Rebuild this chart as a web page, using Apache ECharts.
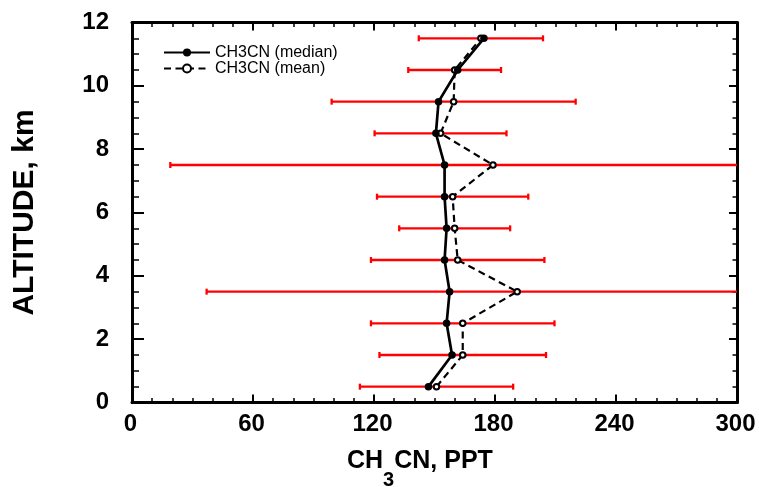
<!DOCTYPE html>
<html>
<head>
<meta charset="utf-8">
<script src="https://cdn.jsdelivr.net/npm/echarts@6/dist/echarts.min.js"></script>
<style>
  html, body { margin: 0; padding: 0; background: #fff; }
  #chart { width: 759px; height: 487px; }
</style>
</head>
<body>
<div id="chart"></div>
<script>
// Altitude bins (km), bin centres
const altitudes = [0.5, 1.5, 2.5, 3.5, 4.5, 5.5, 6.5, 7.5, 8.5, 9.5, 10.5, 11.5];
// CH3CN mixing ratios (pptv)
const medianValues = [147, 158.7, 156, 157.5, 155, 156, 155, 155, 150.7, 152, 161.5, 174.5];
const meanValues   = [151, 164, 164, 191, 161.5, 160, 159, 179, 153, 159.5, 160, 173];
const stdDevValues = [38, 41.3, 45.5, 154, 43, 27.5, 37.5, 160, 32.7, 60.5, 23, 30.8];
// Axis ticks
const xTicks = [0, 60, 120, 180, 240, 300];
const yTicks = [0, 2, 4, 6, 8, 10, 12];

const FONT = '"Liberation Sans", Arial, Helvetica, sans-serif';

const chart = echarts.init(document.getElementById('chart'), null, { renderer: 'canvas' });

const medianData = altitudes.map((a, i) => [medianValues[i], a]);
const meanData = altitudes.map((a, i) => [meanValues[i], a]);
const barData = altitudes.map((a, i) => [meanValues[i], stdDevValues[i], a]);

// x-axis title "CH3CN, PPT" with a subscript 3, laid out as three text pieces
const titleMain = 'bold 25px ' + FONT;
const titleSub = 'bold 20px ' + FONT;
const measureCtx = document.createElement('canvas').getContext('2d');
function textWidth(str, font) { measureCtx.font = font; return measureCtx.measureText(str).width; }
const wCH = textWidth('CH', titleMain);
const wSub = textWidth('3', titleSub);
const titleLeft = 347;
const titleY = 461;

function frameAxis(extra) {
  return Object.assign({
    type: 'value',
    axisLine: { show: true, onZero: false, lineStyle: { color: '#000', width: 3 } },
    axisTick: { show: true, inside: true, length: 8, lineStyle: { color: '#000', width: 2 } },
    minorTick: { show: true, length: 5, lineStyle: { color: '#000', width: 1.5 } },
    splitLine: { show: false },
    minorSplitLine: { show: false }
  }, extra);
}

const labelFont = { fontFamily: FONT, fontSize: 24, fontWeight: 'bold', color: '#000' };

const option = {
  animation: false,
  backgroundColor: '#fff',
  grid: { left: 132, right: 22, top: 22.5, bottom: 84.5 },
  legend: {
    data: ['CH3CN (median)', 'CH3CN (mean)'],
    orient: 'vertical',
    left: 163,
    top: 44.5,
    padding: 0,
    itemWidth: 46,
    itemHeight: 10,
    itemGap: 0,
    selectedMode: false,
    textStyle: { fontFamily: FONT, fontSize: 16, color: '#000' }
  },
  graphic: [
    { type: 'text', x: titleLeft, y: titleY, style: { text: 'CH', font: titleMain, fill: '#000', verticalAlign: 'middle' } },
    { type: 'text', x: titleLeft + wCH, y: titleY + 19, style: { text: '3', font: titleSub, fill: '#000', verticalAlign: 'middle' } },
    { type: 'text', x: titleLeft + wCH + wSub, y: titleY, style: { text: 'CN, PPT', font: titleMain, fill: '#000', verticalAlign: 'middle' } }
  ],
  xAxis: [
    frameAxis({
      position: 'bottom',
      min: xTicks[0], max: xTicks[xTicks.length - 1], interval: xTicks[1] - xTicks[0],
      minorTick: { show: true, splitNumber: 6, length: 4.5, lineStyle: { color: '#000', width: 1.5 } },
      axisLabel: Object.assign({ margin: 10, padding: [0, 3, 0, 0] }, labelFont)
    }),
    frameAxis({
      position: 'top',
      min: xTicks[0], max: xTicks[xTicks.length - 1], interval: xTicks[1] - xTicks[0],
      minorTick: { show: true, splitNumber: 6, length: 4.5, lineStyle: { color: '#000', width: 1.5 } },
      axisLabel: { show: false }
    })
  ],
  yAxis: [
    frameAxis({
      position: 'left',
      min: yTicks[0], max: yTicks[yTicks.length - 1], interval: yTicks[1] - yTicks[0],
      axisTick: { show: true, inside: true, length: 12, lineStyle: { color: '#000', width: 2 } },
      minorTick: { show: true, splitNumber: 4, length: 7, lineStyle: { color: '#000', width: 1.5 } },
      axisLabel: Object.assign({ margin: 23, padding: [0, 0, 18, 0] }, labelFont),
      name: 'ALTITUDE, km',
      nameLocation: 'middle',
      nameGap: 92,
      nameTextStyle: { fontFamily: FONT, fontSize: 30, fontWeight: 'bold', color: '#000' }
    }),
    frameAxis({
      position: 'right',
      min: yTicks[0], max: yTicks[yTicks.length - 1], interval: yTicks[1] - yTicks[0],
      minorTick: { show: true, splitNumber: 4, length: 4.5, lineStyle: { color: '#000', width: 1.5 } },
      axisLabel: { show: false }
    })
  ],
  series: [
    {
      // mean ± standard deviation bars, clipped at the plot frame
      type: 'custom',
      name: 'spread',
      xAxisIndex: 0,
      yAxisIndex: 0,
      data: barData,
      encode: { x: [0], y: 2 },
      z: 1,
      renderItem: function (params, api) {
        const m = api.value(0), s = api.value(1), a = api.value(2);
        const cs = params.coordSys;
        const pl = api.coord([m - s, a]);
        const pr = api.coord([m + s, a]);
        const xMin = cs.x, xMax = cs.x + cs.width;
        const x1 = Math.max(pl[0], xMin), x2 = Math.min(pr[0], xMax);
        const y = pl[1];
        const style = { stroke: '#ff0000', lineWidth: 2.3, fill: null };
        const children = [
          { type: 'line', shape: { x1: x1, y1: y, x2: x2, y2: y }, style: style }
        ];
        const cap = 3;
        if (pl[0] >= xMin) {
          children.push({ type: 'line', shape: { x1: x1, y1: y - cap, x2: x1, y2: y + cap }, style: style });
        }
        if (pr[0] <= xMax) {
          children.push({ type: 'line', shape: { x1: x2, y1: y - cap, x2: x2, y2: y + cap }, style: style });
        }
        return { type: 'group', children: children };
      }
    },
    {
      name: 'CH3CN (mean)',
      type: 'line',
      data: meanData,
      z: 2,
      symbol: 'circle',
      symbolSize: 5.5,
      showAllSymbol: true,
      lineStyle: { color: '#000', width: 2.2, type: [7, 4.5] },
      itemStyle: { color: '#fff', borderColor: '#000', borderWidth: 2 }
    },
    {
      name: 'CH3CN (median)',
      type: 'line',
      data: medianData,
      z: 3,
      symbol: 'circle',
      symbolSize: 7.5,
      showAllSymbol: true,
      lineStyle: { color: '#000', width: 2.7 },
      itemStyle: { color: '#000', borderColor: '#000', borderWidth: 0 }
    }
  ]
};

chart.setOption(option);
</script>
</body>
</html>
